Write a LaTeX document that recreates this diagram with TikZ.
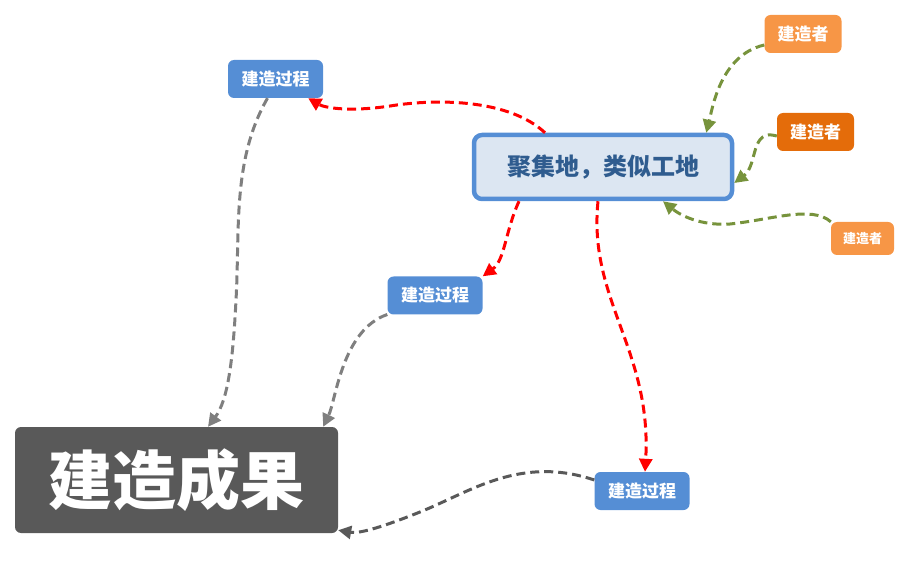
\documentclass[tikz,border=0pt]{standalone}
\usepackage{fontspec}
\newfontfamily\cjk{Noto Sans CJK SC}
\usetikzlibrary{arrows.meta}
\definecolor{cblue}{HTML}{558ED5}
\definecolor{cfill}{HTML}{DCE6F2}
\definecolor{ctext}{HTML}{2F5C8F}
\definecolor{lorange}{HTML}{F79646}
\definecolor{dorange}{HTML}{E46C0A}
\definecolor{dgray}{HTML}{595959}
\definecolor{mgray}{HTML}{7F7F7F}
\definecolor{cgreen}{HTML}{77933C}
\tikzset{
  box/.style={rounded corners=6pt, inner sep=0pt, text=white, font=\cjk\bfseries},
  proc/.style={box, fill=cblue, minimum width=95pt, minimum height=38pt, font=\cjk\bfseries\fontsize{17}{20}\selectfont},
  builder/.style={box, fill=lorange, minimum width=77pt, minimum height=38pt, font=\cjk\bfseries\fontsize{17}{20}\selectfont},
  conn/.style={dashed, dash pattern=on 9pt off 5pt, line width=3pt, -{Triangle[length=13pt,width=13pt]}},
  redc/.style={conn, draw=red, arrows={-{Triangle[length=13pt,width=13pt,fill=red]}}},
  greenc/.style={conn, draw=cgreen},
  grayc/.style={conn, draw=mgray},
}
\begin{document}
\begin{tikzpicture}[x=1pt,y=-1pt]
\useasboundingbox (0,0) rectangle (911,572);
\node[rounded corners=8pt, draw=cblue, line width=4.5pt, fill=cfill, minimum width=258pt, minimum height=64pt, inner sep=0pt, text=ctext, font=\cjk\bfseries\fontsize{24}{28}\selectfont] (c) at (603,167) {聚集地，类似工地};
\node[builder] (b1) at (803,34) {建造者};
\node[builder, fill=dorange] (b2) at (815.5,132) {建造者};
\node[builder, minimum width=63pt, minimum height=33pt, font=\cjk\bfseries\fontsize{13}{16}\selectfont] (b3) at (862.5,238.5) {建造者};
\node[proc] (p1) at (275.5,79) {建造过程};
\node[proc] (p2) at (435,295.5) {建造过程};
\node[proc] (p3) at (642,491) {建造过程};
\node[box, fill=dgray, minimum width=323pt, minimum height=106pt, font=\cjk\bfseries\fontsize{64}{74}\selectfont] (r) at (176.5,480) {建造成果};
% red
\draw[redc] ([xshift=-58pt]c.north) .. controls (510,100) and (440,98) .. (390,106) .. controls (350,112) and (325,108) .. ([xshift=-15pt]p1.south east);
\draw[redc] ([xshift=-84pt]c.south) .. controls (505,232) and (505,260) .. (p2.north east);
\draw[redc] ([xshift=-5pt]c.south) .. controls (588,300) and (652,350) .. ([xshift=3pt]p3.north);
% green
\draw[greenc] ([yshift=-11pt]b1.west) .. controls (720,55) and (712,110) .. ([xshift=-28pt]c.north east);
\draw[greenc] ([yshift=-4pt]b2.west) .. controls (750,128) and (758,165) .. ([yshift=-16pt]c.east);
\draw[greenc] (b3.north west) .. controls (812,205) and (770,220) .. (730,224) .. controls (700,226) and (680,215) .. ([xshift=60pt]c.south);
% gray
\draw[grayc] ([xshift=-8pt]p1.south) .. controls (232,160) and (240,230) .. (236,300) .. controls (233,360) and (228,400) .. ([xshift=31.5pt]r.north);
\draw[grayc] ([yshift=-19pt]p2.west) .. controls (342,330) and (336,400) .. ([xshift=-15pt]r.north east);
\draw[grayc, draw=dgray] ([yshift=11pt]p3.west) .. controls (520,455) and (470,492) .. (420,512) .. controls (385,526) and (360,534) .. ([yshift=3pt]r.south east);
\end{tikzpicture}
\end{document}
